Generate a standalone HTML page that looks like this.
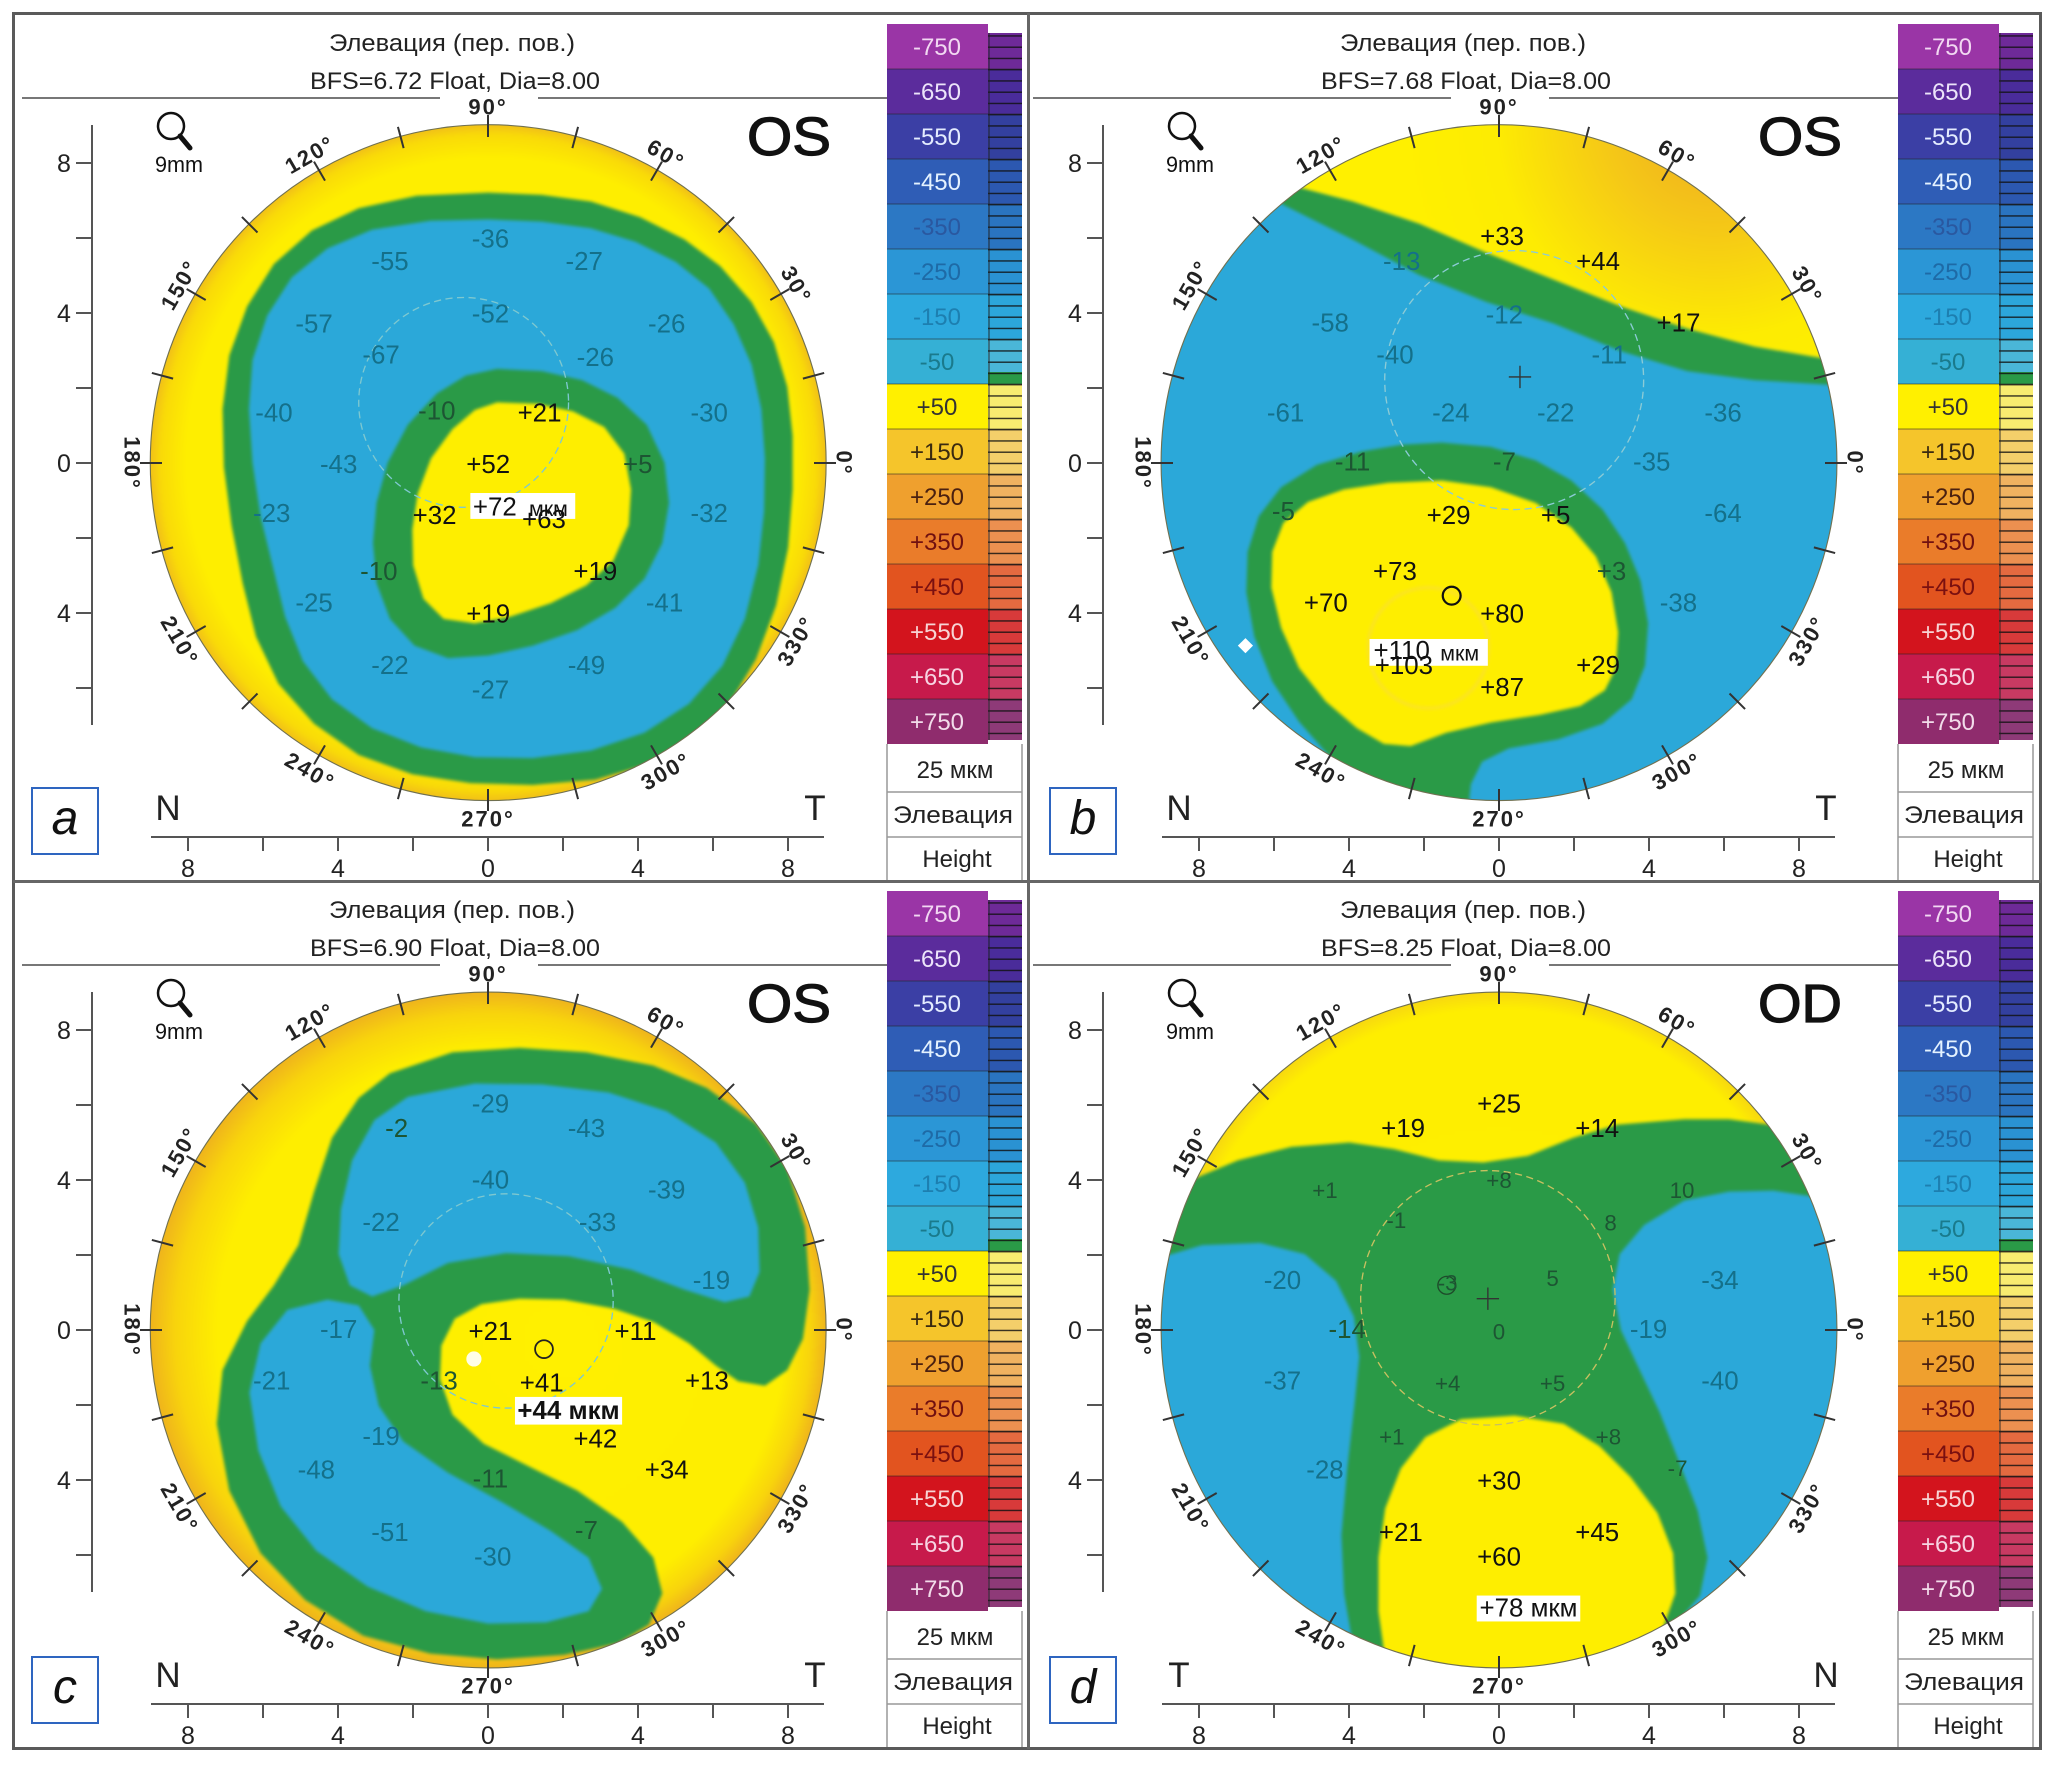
<!DOCTYPE html>
<html><head><meta charset="utf-8">
<style>
html,body{margin:0;padding:0;background:#fff}
svg{display:block}
.m text{font-size:58px;text-anchor:middle;dominant-baseline:central;font-family:"Liberation Sans","DejaVu Sans",sans-serif}
.k{fill:#111}
.q{fill:#14708a}
.g{fill:#1d5533}
.dg text{font-size:22px;font-weight:bold;letter-spacing:2px;text-anchor:middle;dominant-baseline:central;fill:#222}
.cb text{font-size:24px;text-anchor:middle}
</style></head>
<body>
<svg xmlns="http://www.w3.org/2000/svg" width="2053" height="1770" viewBox="0 0 2053 1770" font-family="'Liberation Sans','DejaVu Sans',sans-serif">
<defs>
<filter id="bl" x="-10%" y="-10%" width="120%" height="120%" color-interpolation-filters="sRGB"><feGaussianBlur stdDeviation="3.5"/></filter>
<radialGradient id="yA" gradientUnits="userSpaceOnUse" cx="780" cy="790" r="757" fx="830" fy="770">
<stop offset="0" stop-color="#FFF000"/><stop offset="0.9" stop-color="#FEEE00"/><stop offset="0.97" stop-color="#F9DA08"/><stop offset="1" stop-color="#F1C018"/></radialGradient>
<radialGradient id="yC" gradientUnits="userSpaceOnUse" cx="780" cy="790" r="757" fx="960" fy="820">
<stop offset="0" stop-color="#FFF000"/><stop offset="0.84" stop-color="#FEEE00"/><stop offset="0.94" stop-color="#F8D40C"/><stop offset="1" stop-color="#EFB41C"/></radialGradient>
<radialGradient id="yD" gradientUnits="userSpaceOnUse" cx="785" cy="790" r="757">
<stop offset="0" stop-color="#FFF000"/><stop offset="0.95" stop-color="#FEEE00"/><stop offset="1" stop-color="#F7D810"/></radialGradient>
<radialGradient id="yB" gradientUnits="userSpaceOnUse" cx="1260" cy="20" r="700">
<stop offset="0" stop-color="#EEA822"/><stop offset="0.35" stop-color="#F5C817"/><stop offset="0.7" stop-color="#FDEC02"/><stop offset="1" stop-color="#FFF000"/></radialGradient>
<clipPath id="cpA"><circle cx="780" cy="790" r="757"/></clipPath>
<clipPath id="cpB"><circle cx="778" cy="790" r="757"/></clipPath>
<clipPath id="cpD"><circle cx="785" cy="790" r="757"/></clipPath>
<pattern id="stl" patternUnits="userSpaceOnUse" x="0" y="24" width="40" height="11.25"><rect x="0" y="0" width="40" height="1.4" fill="#111" opacity="0.85"/></pattern>
</defs>
<rect width="2053" height="1770" fill="#fff"/>

<!-- ================= PANEL A MAP ================= -->
<g transform="translate(140 110) scale(0.4464)">
 <g clip-path="url(#cpA)">
  <g filter="url(#bl)">
   <rect x="-50" y="-50" width="1700" height="1700" fill="url(#yA)"/>
   <polygon fill="#2A9A47" points="780,185 900,190 1010,205 1120,240 1220,290 1300,350 1370,430 1420,520 1450,620 1462,730 1462,850 1452,980 1425,1110 1380,1230 1320,1330 1240,1410 1140,1465 1020,1500 880,1512 740,1508 610,1488 490,1445 390,1375 310,1285 260,1180 230,1060 205,930 188,800 185,670 200,550 240,440 300,345 385,270 490,220 620,192"/>
   <polygon fill="#2BA8D9" points="780,245 900,250 1010,265 1110,295 1200,340 1275,400 1330,480 1370,570 1392,670 1400,780 1398,900 1385,1020 1355,1140 1305,1245 1230,1330 1130,1395 1010,1435 880,1452 750,1450 630,1428 520,1385 430,1320 365,1235 325,1135 298,1025 270,910 252,790 244,670 252,560 285,460 340,375 420,310 520,268 650,248"/>
   <polygon fill="#2A9A47" points="800,580 900,585 990,605 1070,645 1135,705 1175,790 1185,880 1170,970 1130,1050 1065,1115 980,1165 880,1200 780,1222 690,1228 615,1200 560,1140 530,1060 522,970 530,880 555,790 600,705 665,635 730,595"/>
   <polygon fill="#FEEE00" points="800,655 890,658 970,675 1040,710 1085,770 1100,850 1095,930 1060,1010 1000,1065 920,1105 830,1135 750,1150 680,1140 635,1095 612,1020 610,940 622,860 652,780 700,715 750,672"/>
  </g>
  <circle cx="725" cy="655" r="235" fill="none" stroke="#7ec8d0" stroke-width="3" stroke-dasharray="16 10"/>
 </g>
 <circle cx="780" cy="790" r="757" fill="none" stroke="#707050" stroke-width="2.5"/>
 <g class="m">
  <text class="q" x="785" y="290">-36</text><text class="q" x="560" y="340">-55</text><text class="q" x="995" y="340">-27</text>
  <text class="q" x="390" y="480">-57</text><text class="q" x="785" y="458">-52</text><text class="q" x="1180" y="480">-26</text>
  <text class="q" x="540" y="550">-67</text><text class="q" x="1020" y="555">-26</text>
  <text class="q" x="300" y="680">-40</text><text class="g" x="665" y="675">-10</text><text class="k" x="895" y="680">+21</text><text class="q" x="1275" y="680">-30</text>
  <text class="q" x="445" y="795">-43</text><text class="k" x="780" y="795">+52</text><text class="g" x="1115" y="795">+5</text>
  <text class="q" x="295" y="905">-23</text><text class="k" x="660" y="910">+32</text><text class="q" x="1275" y="905">-32</text>
  <rect x="740" y="858" width="235" height="58" fill="#fff"/>
  <text class="k" x="795" y="890">+72</text><text class="k" x="915" y="894" style="font-size:48px">мкм</text><text class="k" x="905" y="918">+63</text>
  <text class="g" x="535" y="1035">-10</text><text class="k" x="1020" y="1035">+19</text>
  <text class="q" x="390" y="1105">-25</text><text class="k" x="780" y="1130">+19</text><text class="q" x="1175" y="1105">-41</text>
  <text class="q" x="560" y="1245">-22</text><text class="q" x="1000" y="1245">-49</text><text class="q" x="785" y="1300">-27</text>
 </g>
</g>

<!-- ================= PANEL B MAP ================= -->
<g transform="translate(1151.7 110) scale(0.4464)">
 <g clip-path="url(#cpB)">
  <g filter="url(#bl)">
   <rect x="-50" y="-50" width="1700" height="1700" fill="#2BA8D9"/>
   <polygon fill="url(#yB)" points="100,-50 1700,-50 1700,560 1495,555 1350,530 1200,490 1050,440 900,380 750,320 600,255 450,205 335,175 250,130 100,0"/>
   <polygon fill="#2A9A47" points="250,130 335,175 450,205 600,255 750,320 900,380 1050,440 1200,490 1350,530 1495,555 1700,560 1700,628 1510,615 1350,605 1200,585 1050,540 900,478 750,430 600,370 450,290 300,215 200,160 150,100"/>
   <polygon fill="#2A9A47" points="650,745 760,755 860,785 940,830 1010,895 1060,970 1095,1055 1112,1150 1105,1245 1075,1320 1010,1375 910,1410 800,1430 740,1460 715,1510 705,1600 600,1600 470,1540 400,1450 330,1370 270,1280 230,1180 212,1080 215,990 240,910 290,845 370,795 470,765 560,750"/>
   <polygon fill="#FEEE00" points="650,830 760,845 860,880 940,935 995,1000 1030,1080 1045,1170 1040,1250 1015,1300 960,1335 870,1355 760,1372 660,1395 580,1425 520,1420 460,1385 390,1325 330,1250 290,1160 268,1070 270,990 295,925 350,878 430,850 530,835"/>
   <circle cx="620" cy="1205" r="135" fill="none" stroke="#f6d84a" stroke-width="6" opacity="0.6"/>
  </g>
  <circle cx="812" cy="605" r="290" fill="none" stroke="#8ccbd6" stroke-width="3" stroke-dasharray="16 10"/>
 </g>
 <circle cx="778" cy="790" r="757" fill="none" stroke="#707050" stroke-width="2.5"/>
 <path d="M800 598H850M825 573V623" stroke="#333" stroke-width="3"/>
 <circle cx="672" cy="1088" r="20" fill="none" stroke="#111" stroke-width="5"/>
 <polygon points="210,1183 227,1200 210,1217 193,1200" fill="#fff"/>
 <g class="m">
  <text class="k" x="785" y="285">+33</text><text class="k" x="1000" y="340">+44</text><text class="q" x="560" y="340">-13</text>
  <text class="q" x="400" y="478">-58</text><text class="q" x="790" y="460">-12</text><text class="k" x="1180" y="478">+17</text>
  <text class="q" x="545" y="550">-40</text><text class="q" x="1025" y="550">-11</text>
  <text class="q" x="300" y="680">-61</text><text class="q" x="670" y="680">-24</text><text class="q" x="905" y="680">-22</text><text class="q" x="1280" y="680">-36</text>
  <text class="g" x="450" y="790">-11</text><text class="g" x="790" y="790">-7</text><text class="q" x="1120" y="790">-35</text>
  <text class="g" x="295" y="900">-5</text><text class="k" x="665" y="910">+29</text><text class="k" x="905" y="910">+5</text><text class="q" x="1280" y="905">-64</text>
  <text class="k" x="545" y="1035">+73</text><text class="g" x="1030" y="1035">+3</text>
  <text class="k" x="390" y="1105">+70</text><text class="k" x="785" y="1130">+80</text><text class="q" x="1180" y="1105">-38</text>
  <rect x="488" y="1185" width="265" height="60" fill="#fff"/>
  <text class="k" x="560" y="1212">+110</text><text class="k" x="690" y="1218" style="font-size:48px">мкм</text>
  <text class="k" x="565" y="1245">+103</text><text class="k" x="1000" y="1245">+29</text>
  <text class="k" x="785" y="1295">+87</text>
 </g>
</g>

<!-- ================= PANEL C MAP ================= -->
<g transform="translate(140 977.3) scale(0.4464)">
 <g clip-path="url(#cpA)">
  <g filter="url(#bl)">
   <rect x="-50" y="-50" width="1700" height="1700" fill="url(#yC)"/>
   <polygon fill="#2A9A47" points="560,215 700,168 850,158 1000,168 1150,198 1270,248 1380,328 1450,428 1490,560 1500,700 1485,810 1450,880 1400,915 1340,905 1290,870 1230,820 1150,772 1060,742 950,722 850,720 765,732 705,765 675,825 672,900 700,980 770,1045 870,1095 980,1150 1080,1220 1150,1300 1170,1380 1140,1450 1070,1492 950,1518 800,1528 650,1515 500,1475 370,1395 270,1290 200,1150 172,1000 185,880 240,770 300,690 355,600 390,480 430,360 490,270"/>
   <polygon fill="#2BA8D9" points="600,268 750,238 900,240 1050,258 1180,300 1290,370 1355,460 1385,560 1388,660 1365,715 1310,728 1220,700 1100,655 960,625 820,618 690,640 590,690 520,715 470,690 445,620 450,520 475,410 525,320"/>
   <polygon fill="#2BA8D9" points="330,745 420,722 490,735 525,790 515,870 535,960 590,1040 690,1110 810,1175 920,1240 1005,1300 1035,1370 1005,1420 910,1445 780,1448 640,1420 510,1365 395,1285 315,1185 265,1060 245,930 270,820"/>
  </g>
  <circle cx="820" cy="725" r="240" fill="none" stroke="#7ec8d0" stroke-width="3" stroke-dasharray="16 10"/>
 </g>
 <circle cx="780" cy="790" r="757" fill="none" stroke="#707050" stroke-width="2.5"/>
 <circle cx="748" cy="855" r="17" fill="#fff" opacity="0.9"/>
 <circle cx="905" cy="833" r="20" fill="none" stroke="#222" stroke-width="4"/>
 <g class="m">
  <text class="q" x="785" y="285">-29</text><text class="q" x="1000" y="340">-43</text><text class="g" x="575" y="340">-2</text>
  <text class="q" x="785" y="455">-40</text><text class="q" x="1180" y="478">-39</text>
  <text class="q" x="540" y="550">-22</text><text class="q" x="1025" y="550">-33</text>
  <text class="q" x="1280" y="680">-19</text>
  <text class="q" x="445" y="790">-17</text><text class="k" x="785" y="795">+21</text><text class="k" x="1110" y="795">+11</text>
  <text class="q" x="295" y="905">-21</text><text class="g" x="670" y="905">-13</text><text class="k" x="900" y="910">+41</text><text class="k" x="1270" y="905">+13</text>
  <rect x="840" y="940" width="240" height="62" fill="#fff"/>
  <text class="k" x="960" y="971" style="font-weight:bold">+44 мкм</text>
  <text class="q" x="540" y="1030">-19</text><text class="k" x="1020" y="1035">+42</text>
  <text class="q" x="395" y="1105">-48</text><text class="g" x="785" y="1125">-11</text><text class="k" x="1180" y="1105">+34</text>
  <text class="q" x="560" y="1245">-51</text><text class="g" x="1000" y="1240">-7</text>
  <text class="q" x="790" y="1300">-30</text>
 </g>
</g>

<!-- ================= PANEL D MAP ================= -->
<g transform="translate(1148.6 977.3) scale(0.4464)">
 <g clip-path="url(#cpD)">
  <g filter="url(#bl)">
   <rect x="-50" y="-50" width="1700" height="1700" fill="url(#yD)"/>
   <polygon fill="#2A9A47" points="-50,475 105,450 200,410 320,380 450,370 550,385 650,410 750,415 850,400 950,360 1050,330 1200,318 1300,318 1390,330 1700,340 1700,1700 -50,1700"/>
   <polygon fill="#2BA8D9" points="-50,628 45,622 120,600 250,595 350,620 420,680 460,760 472,850 462,950 445,1100 432,1250 438,1380 455,1480 400,1700 -50,1700"/>
   <polygon fill="#2BA8D9" points="1700,480 1480,490 1400,478 1300,480 1200,500 1110,555 1055,620 1040,700 1058,790 1100,880 1145,975 1190,1090 1230,1195 1252,1300 1235,1385 1180,1450 1150,1700 1700,1700"/>
   <polygon fill="#FEEE00" points="540,1600 515,1420 515,1300 530,1190 565,1100 620,1030 700,990 820,982 930,1000 1010,1050 1080,1120 1140,1200 1175,1290 1180,1380 1155,1450 1130,1600"/>
  </g>
  <circle cx="760" cy="718" r="285" fill="none" stroke="#c8c060" stroke-width="3" stroke-dasharray="16 10"/>
 </g>
 <circle cx="785" cy="790" r="757" fill="none" stroke="#707050" stroke-width="2.5"/>
 <path d="M735 720H785M760 695V745" stroke="#333" stroke-width="3"/>
 <circle cx="668" cy="690" r="20" fill="none" stroke="#1e4a2a" stroke-width="3"/>
 <g class="m">
  <text class="k" x="785" y="285">+25</text><text class="k" x="570" y="340">+19</text><text class="k" x="1005" y="340">+14</text>
  <text class="g" x="395" y="478" style="font-size:50px">+1</text><text class="g" x="785" y="455" style="font-size:50px">+8</text><text class="g" x="1195" y="478" style="font-size:50px">10</text>
  <text class="g" x="555" y="545" style="font-size:50px">-1</text><text class="g" x="1035" y="550" style="font-size:50px">8</text>
  <text class="q" x="300" y="680">-20</text><text class="g" x="670" y="685" style="font-size:50px">-3</text><text class="g" x="905" y="675" style="font-size:50px">5</text><text class="q" x="1280" y="680">-34</text>
  <text class="g" x="445" y="790">-14</text><text class="g" x="785" y="795" style="font-size:50px">0</text><text class="q" x="1120" y="790">-19</text>
  <text class="q" x="300" y="905">-37</text><text class="g" x="670" y="910" style="font-size:50px">+4</text><text class="g" x="905" y="910" style="font-size:50px">+5</text><text class="q" x="1280" y="905">-40</text>
  <text class="g" x="545" y="1030" style="font-size:50px">+1</text><text class="g" x="1030" y="1030" style="font-size:50px">+8</text>
  <text class="q" x="395" y="1105">-28</text><text class="k" x="785" y="1130">+30</text><text class="g" x="1185" y="1100" style="font-size:50px">-7</text>
  <text class="k" x="565" y="1245">+21</text><text class="k" x="1005" y="1245">+45</text>
  <text class="k" x="785" y="1300">+60</text>
  <rect x="735" y="1385" width="232" height="58" fill="#fff"/>
  <text class="k" x="851" y="1414">+78 мкм</text>
 </g>
</g>

<!-- ================= FRAMES ================= -->
<!-- PANEL A -->
<g>
 <text x="452" y="51" font-size="24" text-anchor="middle" textLength="246" lengthAdjust="spacingAndGlyphs" fill="#222">Элевация (пер. пов.)</text>
 <text x="455" y="89" font-size="24" text-anchor="middle" textLength="290" lengthAdjust="spacingAndGlyphs" fill="#222">BFS=6.72 Float, Dia=8.00</text>
 <path d="M22 98H440M538 98H887" stroke="#777" stroke-width="2"/>
 <g class="dg">
  <text transform="translate(844 463) rotate(90)">0°</text>
  <text transform="translate(796.3 285) rotate(60)">30°</text>
  <text transform="translate(666 154.7) rotate(30)">60°</text>
  <text transform="translate(488 107)">90°</text>
  <text transform="translate(310 154.7) rotate(-30)">120°</text>
  <text transform="translate(179.7 285) rotate(-60)">150°</text>
  <text transform="translate(132 463) rotate(90)">180°</text>
  <text transform="translate(179.7 641) rotate(60)">210°</text>
  <text transform="translate(310 771.3) rotate(30)">240°</text>
  <text transform="translate(488 819)">270°</text>
  <text transform="translate(666 771.3) rotate(-30)">300°</text>
  <text transform="translate(796.3 641) rotate(-60)">330°</text>
 </g>
 <g transform="translate(488 463)" stroke="#333" stroke-width="2">
  <path d="M326 0H348"/><path d="M326 0H348" transform="rotate(15)"/><path d="M326 0H348" transform="rotate(30)"/><path d="M326 0H348" transform="rotate(45)"/><path d="M326 0H348" transform="rotate(60)"/><path d="M326 0H348" transform="rotate(75)"/><path d="M326 0H348" transform="rotate(90)"/><path d="M326 0H348" transform="rotate(105)"/><path d="M326 0H348" transform="rotate(120)"/><path d="M326 0H348" transform="rotate(135)"/><path d="M326 0H348" transform="rotate(150)"/><path d="M326 0H348" transform="rotate(165)"/><path d="M326 0H348" transform="rotate(180)"/><path d="M326 0H348" transform="rotate(195)"/><path d="M326 0H348" transform="rotate(210)"/><path d="M326 0H348" transform="rotate(225)"/><path d="M326 0H348" transform="rotate(240)"/><path d="M326 0H348" transform="rotate(255)"/><path d="M326 0H348" transform="rotate(270)"/><path d="M326 0H348" transform="rotate(285)"/><path d="M326 0H348" transform="rotate(300)"/><path d="M326 0H348" transform="rotate(315)"/><path d="M326 0H348" transform="rotate(330)"/><path d="M326 0H348" transform="rotate(345)"/>
 </g>
 <path d="M92 125V725M76 163H92M76 238H92M76 313H92M76 388H92M76 463H92M76 538H92M76 613H92M76 688H92" stroke="#555" stroke-width="2" fill="none"/>
 <g font-size="25" text-anchor="middle" fill="#222"><text x="64" y="172">8</text><text x="64" y="322">4</text><text x="64" y="472">0</text><text x="64" y="622">4</text></g>
 <path d="M151 837H824M188 837V851M263 837V851M338 837V851M413 837V851M488 837V851M563 837V851M638 837V851M713 837V851M788 837V851" stroke="#555" stroke-width="2" fill="none"/>
 <g font-size="25" text-anchor="middle" fill="#222"><text x="188" y="877">8</text><text x="338" y="877">4</text><text x="488" y="877">0</text><text x="638" y="877">4</text><text x="788" y="877">8</text></g>
 <text x="168" y="820" font-size="35" text-anchor="middle" fill="#222">N</text>
 <text x="815" y="820" font-size="35" text-anchor="middle" fill="#222">T</text>
 <rect x="32" y="788" width="66" height="66" fill="#fff" stroke="#2e65c0" stroke-width="2"/>
 <text x="65" y="834" font-size="48" font-style="italic" text-anchor="middle" fill="#111">a</text>
 <text x="789" y="155" font-size="54" text-anchor="middle" textLength="84" lengthAdjust="spacingAndGlyphs" fill="#111" stroke="#111" stroke-width="1.2">OS</text>
 <circle cx="171" cy="126" r="13" fill="none" stroke="#111" stroke-width="2.5"/><path d="M180 136L190 148" stroke="#111" stroke-width="5" stroke-linecap="round"/>
 <text x="179" y="172" font-size="22" text-anchor="middle" textLength="48" lengthAdjust="spacingAndGlyphs" fill="#111">9mm</text>
 <g class="cb">
  <rect x="887" y="24" width="101" height="45" fill="#9A35A6"/><rect x="887" y="69" width="101" height="45" fill="#5B2C9C"/><rect x="887" y="114" width="101" height="45" fill="#3B3FA5"/><rect x="887" y="159" width="101" height="45" fill="#2F5DB6"/>
  <rect x="887" y="204" width="101" height="45" fill="#2C78C4"/><rect x="887" y="249" width="101" height="45" fill="#2B96D6"/><rect x="887" y="294" width="101" height="45" fill="#2DA9DE"/><rect x="887" y="339" width="101" height="45" fill="#35B0D5"/>
  <rect x="887" y="384" width="101" height="45" fill="#FFF000"/><rect x="887" y="429" width="101" height="45" fill="#F5C52B"/><rect x="887" y="474" width="101" height="45" fill="#EFA02E"/><rect x="887" y="519" width="101" height="45" fill="#EA7C2A"/>
  <rect x="887" y="564" width="101" height="45" fill="#E2541F"/><rect x="887" y="609" width="101" height="45" fill="#D3141D"/><rect x="887" y="654" width="101" height="45" fill="#C71A4B"/><rect x="887" y="699" width="101" height="45" fill="#8F2C6D"/>
  <rect x="988" y="33" width="34" height="36" fill="#6E2A98"/><rect x="988" y="69" width="34" height="45" fill="#4A2C9A"/><rect x="988" y="114" width="34" height="45" fill="#33409F"/><rect x="988" y="159" width="34" height="45" fill="#2C58B0"/>
  <rect x="988" y="204" width="34" height="45" fill="#2A74C0"/><rect x="988" y="249" width="34" height="45" fill="#2A92D2"/><rect x="988" y="294" width="34" height="45" fill="#2CA6DB"/><rect x="988" y="339" width="34" height="45" fill="#4AB6D8"/>
  <rect x="988" y="384" width="34" height="45" fill="#F8EC70"/><rect x="988" y="429" width="34" height="45" fill="#F4CF6A"/><rect x="988" y="474" width="34" height="45" fill="#F0B260"/><rect x="988" y="519" width="34" height="45" fill="#EC9050"/>
  <rect x="988" y="564" width="34" height="45" fill="#E46A40"/><rect x="988" y="609" width="34" height="45" fill="#D83A3A"/><rect x="988" y="654" width="34" height="45" fill="#C83A62"/><rect x="988" y="699" width="34" height="41" fill="#8E3A78"/>
  <rect x="988" y="372" width="34" height="12" fill="#2A9A47"/>
  <rect x="988" y="33" width="34" height="707" fill="url(#stl)"/>
  <path d="M989 33V740" stroke="#222" stroke-width="1.3" opacity="0.7"/>
  <path d="M887 69H1022M887 114H1022M887 159H1022M887 204H1022M887 249H1022M887 294H1022M887 339H1022M887 384H1022M887 429H1022M887 474H1022M887 519H1022M887 564H1022M887 609H1022M887 654H1022M887 699H1022" stroke="#222" stroke-width="1" opacity="0.55"/>
  <text x="937" y="55" fill="#f2d8f2">-750</text><text x="937" y="100" fill="#ece4fa">-650</text><text x="937" y="145" fill="#e4ecff">-550</text><text x="937" y="190" fill="#e4f2ff">-450</text>
  <text x="937" y="235" fill="#2a58a0">-350</text><text x="937" y="280" fill="#1e6aa6">-250</text><text x="937" y="325" fill="#1d7fb0">-150</text><text x="937" y="370" fill="#1a7a8c">-50</text>
  <text x="937" y="415" fill="#333">+50</text><text x="937" y="460" fill="#3a2a10">+150</text><text x="937" y="505" fill="#4a2010">+250</text><text x="937" y="550" fill="#701010">+350</text>
  <text x="937" y="595" fill="#7a1010">+450</text><text x="937" y="640" fill="#f7d4d4">+550</text><text x="937" y="685" fill="#f7d4e2">+650</text><text x="937" y="730" fill="#f2dcea">+750</text>
  <path d="M887 744V881M887 792H1022M887 837H1022M1022 744V881" stroke="#999" stroke-width="1.5" fill="none"/>
  <text x="955" y="778" fill="#222">25 мкм</text>
  <text x="953" y="823" fill="#222" textLength="120" lengthAdjust="spacingAndGlyphs">Элевация</text>
  <text x="957" y="867" fill="#222">Height</text>
 </g>
</g>

<!-- PANEL B -->
<g transform="translate(1011 0)">
 <text x="452" y="51" font-size="24" text-anchor="middle" textLength="246" lengthAdjust="spacingAndGlyphs" fill="#222">Элевация (пер. пов.)</text>
 <text x="455" y="89" font-size="24" text-anchor="middle" textLength="290" lengthAdjust="spacingAndGlyphs" fill="#222">BFS=7.68 Float, Dia=8.00</text>
 <path d="M22 98H440M538 98H887" stroke="#777" stroke-width="2"/>
 <g class="dg">
  <text transform="translate(844 463) rotate(90)">0°</text>
  <text transform="translate(796.3 285) rotate(60)">30°</text>
  <text transform="translate(666 154.7) rotate(30)">60°</text>
  <text transform="translate(488 107)">90°</text>
  <text transform="translate(310 154.7) rotate(-30)">120°</text>
  <text transform="translate(179.7 285) rotate(-60)">150°</text>
  <text transform="translate(132 463) rotate(90)">180°</text>
  <text transform="translate(179.7 641) rotate(60)">210°</text>
  <text transform="translate(310 771.3) rotate(30)">240°</text>
  <text transform="translate(488 819)">270°</text>
  <text transform="translate(666 771.3) rotate(-30)">300°</text>
  <text transform="translate(796.3 641) rotate(-60)">330°</text>
 </g>
 <g transform="translate(488 463)" stroke="#333" stroke-width="2">
  <path d="M326 0H348"/><path d="M326 0H348" transform="rotate(15)"/><path d="M326 0H348" transform="rotate(30)"/><path d="M326 0H348" transform="rotate(45)"/><path d="M326 0H348" transform="rotate(60)"/><path d="M326 0H348" transform="rotate(75)"/><path d="M326 0H348" transform="rotate(90)"/><path d="M326 0H348" transform="rotate(105)"/><path d="M326 0H348" transform="rotate(120)"/><path d="M326 0H348" transform="rotate(135)"/><path d="M326 0H348" transform="rotate(150)"/><path d="M326 0H348" transform="rotate(165)"/><path d="M326 0H348" transform="rotate(180)"/><path d="M326 0H348" transform="rotate(195)"/><path d="M326 0H348" transform="rotate(210)"/><path d="M326 0H348" transform="rotate(225)"/><path d="M326 0H348" transform="rotate(240)"/><path d="M326 0H348" transform="rotate(255)"/><path d="M326 0H348" transform="rotate(270)"/><path d="M326 0H348" transform="rotate(285)"/><path d="M326 0H348" transform="rotate(300)"/><path d="M326 0H348" transform="rotate(315)"/><path d="M326 0H348" transform="rotate(330)"/><path d="M326 0H348" transform="rotate(345)"/>
 </g>
 <path d="M92 125V725M76 163H92M76 238H92M76 313H92M76 388H92M76 463H92M76 538H92M76 613H92M76 688H92" stroke="#555" stroke-width="2" fill="none"/>
 <g font-size="25" text-anchor="middle" fill="#222"><text x="64" y="172">8</text><text x="64" y="322">4</text><text x="64" y="472">0</text><text x="64" y="622">4</text></g>
 <path d="M151 837H824M188 837V851M263 837V851M338 837V851M413 837V851M488 837V851M563 837V851M638 837V851M713 837V851M788 837V851" stroke="#555" stroke-width="2" fill="none"/>
 <g font-size="25" text-anchor="middle" fill="#222"><text x="188" y="877">8</text><text x="338" y="877">4</text><text x="488" y="877">0</text><text x="638" y="877">4</text><text x="788" y="877">8</text></g>
 <text x="168" y="820" font-size="35" text-anchor="middle" fill="#222">N</text>
 <text x="815" y="820" font-size="35" text-anchor="middle" fill="#222">T</text>
 <rect x="39" y="788" width="66" height="66" fill="#fff" stroke="#2e65c0" stroke-width="2"/>
 <text x="72" y="834" font-size="48" font-style="italic" text-anchor="middle" fill="#111">b</text>
 <text x="789" y="155" font-size="54" text-anchor="middle" textLength="84" lengthAdjust="spacingAndGlyphs" fill="#111" stroke="#111" stroke-width="1.2">OS</text>
 <circle cx="171" cy="126" r="13" fill="none" stroke="#111" stroke-width="2.5"/><path d="M180 136L190 148" stroke="#111" stroke-width="5" stroke-linecap="round"/>
 <text x="179" y="172" font-size="22" text-anchor="middle" textLength="48" lengthAdjust="spacingAndGlyphs" fill="#111">9mm</text>
 <g class="cb">
  <rect x="887" y="24" width="101" height="45" fill="#9A35A6"/><rect x="887" y="69" width="101" height="45" fill="#5B2C9C"/><rect x="887" y="114" width="101" height="45" fill="#3B3FA5"/><rect x="887" y="159" width="101" height="45" fill="#2F5DB6"/>
  <rect x="887" y="204" width="101" height="45" fill="#2C78C4"/><rect x="887" y="249" width="101" height="45" fill="#2B96D6"/><rect x="887" y="294" width="101" height="45" fill="#2DA9DE"/><rect x="887" y="339" width="101" height="45" fill="#35B0D5"/>
  <rect x="887" y="384" width="101" height="45" fill="#FFF000"/><rect x="887" y="429" width="101" height="45" fill="#F5C52B"/><rect x="887" y="474" width="101" height="45" fill="#EFA02E"/><rect x="887" y="519" width="101" height="45" fill="#EA7C2A"/>
  <rect x="887" y="564" width="101" height="45" fill="#E2541F"/><rect x="887" y="609" width="101" height="45" fill="#D3141D"/><rect x="887" y="654" width="101" height="45" fill="#C71A4B"/><rect x="887" y="699" width="101" height="45" fill="#8F2C6D"/>
  <rect x="988" y="33" width="34" height="36" fill="#6E2A98"/><rect x="988" y="69" width="34" height="45" fill="#4A2C9A"/><rect x="988" y="114" width="34" height="45" fill="#33409F"/><rect x="988" y="159" width="34" height="45" fill="#2C58B0"/>
  <rect x="988" y="204" width="34" height="45" fill="#2A74C0"/><rect x="988" y="249" width="34" height="45" fill="#2A92D2"/><rect x="988" y="294" width="34" height="45" fill="#2CA6DB"/><rect x="988" y="339" width="34" height="45" fill="#4AB6D8"/>
  <rect x="988" y="384" width="34" height="45" fill="#F8EC70"/><rect x="988" y="429" width="34" height="45" fill="#F4CF6A"/><rect x="988" y="474" width="34" height="45" fill="#F0B260"/><rect x="988" y="519" width="34" height="45" fill="#EC9050"/>
  <rect x="988" y="564" width="34" height="45" fill="#E46A40"/><rect x="988" y="609" width="34" height="45" fill="#D83A3A"/><rect x="988" y="654" width="34" height="45" fill="#C83A62"/><rect x="988" y="699" width="34" height="41" fill="#8E3A78"/>
  <rect x="988" y="372" width="34" height="12" fill="#2A9A47"/>
  <rect x="988" y="33" width="34" height="707" fill="url(#stl)"/>
  <path d="M989 33V740" stroke="#222" stroke-width="1.3" opacity="0.7"/>
  <path d="M887 69H1022M887 114H1022M887 159H1022M887 204H1022M887 249H1022M887 294H1022M887 339H1022M887 384H1022M887 429H1022M887 474H1022M887 519H1022M887 564H1022M887 609H1022M887 654H1022M887 699H1022" stroke="#222" stroke-width="1" opacity="0.55"/>
  <text x="937" y="55" fill="#f2d8f2">-750</text><text x="937" y="100" fill="#ece4fa">-650</text><text x="937" y="145" fill="#e4ecff">-550</text><text x="937" y="190" fill="#e4f2ff">-450</text>
  <text x="937" y="235" fill="#2a58a0">-350</text><text x="937" y="280" fill="#1e6aa6">-250</text><text x="937" y="325" fill="#1d7fb0">-150</text><text x="937" y="370" fill="#1a7a8c">-50</text>
  <text x="937" y="415" fill="#333">+50</text><text x="937" y="460" fill="#3a2a10">+150</text><text x="937" y="505" fill="#4a2010">+250</text><text x="937" y="550" fill="#701010">+350</text>
  <text x="937" y="595" fill="#7a1010">+450</text><text x="937" y="640" fill="#f7d4d4">+550</text><text x="937" y="685" fill="#f7d4e2">+650</text><text x="937" y="730" fill="#f2dcea">+750</text>
  <path d="M887 744V881M887 792H1022M887 837H1022M1022 744V881" stroke="#999" stroke-width="1.5" fill="none"/>
  <text x="955" y="778" fill="#222">25 мкм</text>
  <text x="953" y="823" fill="#222" textLength="120" lengthAdjust="spacingAndGlyphs">Элевация</text>
  <text x="957" y="867" fill="#222">Height</text>
 </g>
</g>

<!-- PANEL C -->
<g transform="translate(0 867)">
 <text x="452" y="51" font-size="24" text-anchor="middle" textLength="246" lengthAdjust="spacingAndGlyphs" fill="#222">Элевация (пер. пов.)</text>
 <text x="455" y="89" font-size="24" text-anchor="middle" textLength="290" lengthAdjust="spacingAndGlyphs" fill="#222">BFS=6.90 Float, Dia=8.00</text>
 <path d="M22 98H440M538 98H887" stroke="#777" stroke-width="2"/>
 <g class="dg">
  <text transform="translate(844 463) rotate(90)">0°</text>
  <text transform="translate(796.3 285) rotate(60)">30°</text>
  <text transform="translate(666 154.7) rotate(30)">60°</text>
  <text transform="translate(488 107)">90°</text>
  <text transform="translate(310 154.7) rotate(-30)">120°</text>
  <text transform="translate(179.7 285) rotate(-60)">150°</text>
  <text transform="translate(132 463) rotate(90)">180°</text>
  <text transform="translate(179.7 641) rotate(60)">210°</text>
  <text transform="translate(310 771.3) rotate(30)">240°</text>
  <text transform="translate(488 819)">270°</text>
  <text transform="translate(666 771.3) rotate(-30)">300°</text>
  <text transform="translate(796.3 641) rotate(-60)">330°</text>
 </g>
 <g transform="translate(488 463)" stroke="#333" stroke-width="2">
  <path d="M326 0H348"/><path d="M326 0H348" transform="rotate(15)"/><path d="M326 0H348" transform="rotate(30)"/><path d="M326 0H348" transform="rotate(45)"/><path d="M326 0H348" transform="rotate(60)"/><path d="M326 0H348" transform="rotate(75)"/><path d="M326 0H348" transform="rotate(90)"/><path d="M326 0H348" transform="rotate(105)"/><path d="M326 0H348" transform="rotate(120)"/><path d="M326 0H348" transform="rotate(135)"/><path d="M326 0H348" transform="rotate(150)"/><path d="M326 0H348" transform="rotate(165)"/><path d="M326 0H348" transform="rotate(180)"/><path d="M326 0H348" transform="rotate(195)"/><path d="M326 0H348" transform="rotate(210)"/><path d="M326 0H348" transform="rotate(225)"/><path d="M326 0H348" transform="rotate(240)"/><path d="M326 0H348" transform="rotate(255)"/><path d="M326 0H348" transform="rotate(270)"/><path d="M326 0H348" transform="rotate(285)"/><path d="M326 0H348" transform="rotate(300)"/><path d="M326 0H348" transform="rotate(315)"/><path d="M326 0H348" transform="rotate(330)"/><path d="M326 0H348" transform="rotate(345)"/>
 </g>
 <path d="M92 125V725M76 163H92M76 238H92M76 313H92M76 388H92M76 463H92M76 538H92M76 613H92M76 688H92" stroke="#555" stroke-width="2" fill="none"/>
 <g font-size="25" text-anchor="middle" fill="#222"><text x="64" y="172">8</text><text x="64" y="322">4</text><text x="64" y="472">0</text><text x="64" y="622">4</text></g>
 <path d="M151 837H824M188 837V851M263 837V851M338 837V851M413 837V851M488 837V851M563 837V851M638 837V851M713 837V851M788 837V851" stroke="#555" stroke-width="2" fill="none"/>
 <g font-size="25" text-anchor="middle" fill="#222"><text x="188" y="877">8</text><text x="338" y="877">4</text><text x="488" y="877">0</text><text x="638" y="877">4</text><text x="788" y="877">8</text></g>
 <text x="168" y="820" font-size="35" text-anchor="middle" fill="#222">N</text>
 <text x="815" y="820" font-size="35" text-anchor="middle" fill="#222">T</text>
 <rect x="32" y="790" width="66" height="66" fill="#fff" stroke="#2e65c0" stroke-width="2"/>
 <text x="65" y="836" font-size="48" font-style="italic" text-anchor="middle" fill="#111">c</text>
 <text x="789" y="155" font-size="54" text-anchor="middle" textLength="84" lengthAdjust="spacingAndGlyphs" fill="#111" stroke="#111" stroke-width="1.2">OS</text>
 <circle cx="171" cy="126" r="13" fill="none" stroke="#111" stroke-width="2.5"/><path d="M180 136L190 148" stroke="#111" stroke-width="5" stroke-linecap="round"/>
 <text x="179" y="172" font-size="22" text-anchor="middle" textLength="48" lengthAdjust="spacingAndGlyphs" fill="#111">9mm</text>
 <g class="cb">
  <rect x="887" y="24" width="101" height="45" fill="#9A35A6"/><rect x="887" y="69" width="101" height="45" fill="#5B2C9C"/><rect x="887" y="114" width="101" height="45" fill="#3B3FA5"/><rect x="887" y="159" width="101" height="45" fill="#2F5DB6"/>
  <rect x="887" y="204" width="101" height="45" fill="#2C78C4"/><rect x="887" y="249" width="101" height="45" fill="#2B96D6"/><rect x="887" y="294" width="101" height="45" fill="#2DA9DE"/><rect x="887" y="339" width="101" height="45" fill="#35B0D5"/>
  <rect x="887" y="384" width="101" height="45" fill="#FFF000"/><rect x="887" y="429" width="101" height="45" fill="#F5C52B"/><rect x="887" y="474" width="101" height="45" fill="#EFA02E"/><rect x="887" y="519" width="101" height="45" fill="#EA7C2A"/>
  <rect x="887" y="564" width="101" height="45" fill="#E2541F"/><rect x="887" y="609" width="101" height="45" fill="#D3141D"/><rect x="887" y="654" width="101" height="45" fill="#C71A4B"/><rect x="887" y="699" width="101" height="45" fill="#8F2C6D"/>
  <rect x="988" y="33" width="34" height="36" fill="#6E2A98"/><rect x="988" y="69" width="34" height="45" fill="#4A2C9A"/><rect x="988" y="114" width="34" height="45" fill="#33409F"/><rect x="988" y="159" width="34" height="45" fill="#2C58B0"/>
  <rect x="988" y="204" width="34" height="45" fill="#2A74C0"/><rect x="988" y="249" width="34" height="45" fill="#2A92D2"/><rect x="988" y="294" width="34" height="45" fill="#2CA6DB"/><rect x="988" y="339" width="34" height="45" fill="#4AB6D8"/>
  <rect x="988" y="384" width="34" height="45" fill="#F8EC70"/><rect x="988" y="429" width="34" height="45" fill="#F4CF6A"/><rect x="988" y="474" width="34" height="45" fill="#F0B260"/><rect x="988" y="519" width="34" height="45" fill="#EC9050"/>
  <rect x="988" y="564" width="34" height="45" fill="#E46A40"/><rect x="988" y="609" width="34" height="45" fill="#D83A3A"/><rect x="988" y="654" width="34" height="45" fill="#C83A62"/><rect x="988" y="699" width="34" height="41" fill="#8E3A78"/>
  <rect x="988" y="372" width="34" height="12" fill="#2A9A47"/>
  <rect x="988" y="33" width="34" height="707" fill="url(#stl)"/>
  <path d="M989 33V740" stroke="#222" stroke-width="1.3" opacity="0.7"/>
  <path d="M887 69H1022M887 114H1022M887 159H1022M887 204H1022M887 249H1022M887 294H1022M887 339H1022M887 384H1022M887 429H1022M887 474H1022M887 519H1022M887 564H1022M887 609H1022M887 654H1022M887 699H1022" stroke="#222" stroke-width="1" opacity="0.55"/>
  <text x="937" y="55" fill="#f2d8f2">-750</text><text x="937" y="100" fill="#ece4fa">-650</text><text x="937" y="145" fill="#e4ecff">-550</text><text x="937" y="190" fill="#e4f2ff">-450</text>
  <text x="937" y="235" fill="#2a58a0">-350</text><text x="937" y="280" fill="#1e6aa6">-250</text><text x="937" y="325" fill="#1d7fb0">-150</text><text x="937" y="370" fill="#1a7a8c">-50</text>
  <text x="937" y="415" fill="#333">+50</text><text x="937" y="460" fill="#3a2a10">+150</text><text x="937" y="505" fill="#4a2010">+250</text><text x="937" y="550" fill="#701010">+350</text>
  <text x="937" y="595" fill="#7a1010">+450</text><text x="937" y="640" fill="#f7d4d4">+550</text><text x="937" y="685" fill="#f7d4e2">+650</text><text x="937" y="730" fill="#f2dcea">+750</text>
  <path d="M887 744V881M887 792H1022M887 837H1022M1022 744V881" stroke="#999" stroke-width="1.5" fill="none"/>
  <text x="955" y="778" fill="#222">25 мкм</text>
  <text x="953" y="823" fill="#222" textLength="120" lengthAdjust="spacingAndGlyphs">Элевация</text>
  <text x="957" y="867" fill="#222">Height</text>
 </g>
</g>

<!-- PANEL D -->
<g transform="translate(1011 867)">
 <text x="452" y="51" font-size="24" text-anchor="middle" textLength="246" lengthAdjust="spacingAndGlyphs" fill="#222">Элевация (пер. пов.)</text>
 <text x="455" y="89" font-size="24" text-anchor="middle" textLength="290" lengthAdjust="spacingAndGlyphs" fill="#222">BFS=8.25 Float, Dia=8.00</text>
 <path d="M22 98H440M538 98H887" stroke="#777" stroke-width="2"/>
 <g class="dg">
  <text transform="translate(844 463) rotate(90)">0°</text>
  <text transform="translate(796.3 285) rotate(60)">30°</text>
  <text transform="translate(666 154.7) rotate(30)">60°</text>
  <text transform="translate(488 107)">90°</text>
  <text transform="translate(310 154.7) rotate(-30)">120°</text>
  <text transform="translate(179.7 285) rotate(-60)">150°</text>
  <text transform="translate(132 463) rotate(90)">180°</text>
  <text transform="translate(179.7 641) rotate(60)">210°</text>
  <text transform="translate(310 771.3) rotate(30)">240°</text>
  <text transform="translate(488 819)">270°</text>
  <text transform="translate(666 771.3) rotate(-30)">300°</text>
  <text transform="translate(796.3 641) rotate(-60)">330°</text>
 </g>
 <g transform="translate(488 463)" stroke="#333" stroke-width="2">
  <path d="M326 0H348"/><path d="M326 0H348" transform="rotate(15)"/><path d="M326 0H348" transform="rotate(30)"/><path d="M326 0H348" transform="rotate(45)"/><path d="M326 0H348" transform="rotate(60)"/><path d="M326 0H348" transform="rotate(75)"/><path d="M326 0H348" transform="rotate(90)"/><path d="M326 0H348" transform="rotate(105)"/><path d="M326 0H348" transform="rotate(120)"/><path d="M326 0H348" transform="rotate(135)"/><path d="M326 0H348" transform="rotate(150)"/><path d="M326 0H348" transform="rotate(165)"/><path d="M326 0H348" transform="rotate(180)"/><path d="M326 0H348" transform="rotate(195)"/><path d="M326 0H348" transform="rotate(210)"/><path d="M326 0H348" transform="rotate(225)"/><path d="M326 0H348" transform="rotate(240)"/><path d="M326 0H348" transform="rotate(255)"/><path d="M326 0H348" transform="rotate(270)"/><path d="M326 0H348" transform="rotate(285)"/><path d="M326 0H348" transform="rotate(300)"/><path d="M326 0H348" transform="rotate(315)"/><path d="M326 0H348" transform="rotate(330)"/><path d="M326 0H348" transform="rotate(345)"/>
 </g>
 <path d="M92 125V725M76 163H92M76 238H92M76 313H92M76 388H92M76 463H92M76 538H92M76 613H92M76 688H92" stroke="#555" stroke-width="2" fill="none"/>
 <g font-size="25" text-anchor="middle" fill="#222"><text x="64" y="172">8</text><text x="64" y="322">4</text><text x="64" y="472">0</text><text x="64" y="622">4</text></g>
 <path d="M151 837H824M188 837V851M263 837V851M338 837V851M413 837V851M488 837V851M563 837V851M638 837V851M713 837V851M788 837V851" stroke="#555" stroke-width="2" fill="none"/>
 <g font-size="25" text-anchor="middle" fill="#222"><text x="188" y="877">8</text><text x="338" y="877">4</text><text x="488" y="877">0</text><text x="638" y="877">4</text><text x="788" y="877">8</text></g>
 <text x="168" y="820" font-size="35" text-anchor="middle" fill="#222">T</text>
 <text x="815" y="820" font-size="35" text-anchor="middle" fill="#222">N</text>
 <rect x="39" y="790" width="66" height="66" fill="#fff" stroke="#2e65c0" stroke-width="2"/>
 <text x="72" y="836" font-size="48" font-style="italic" text-anchor="middle" fill="#111">d</text>
 <text x="789" y="155" font-size="54" text-anchor="middle" textLength="84" lengthAdjust="spacingAndGlyphs" fill="#111" stroke="#111" stroke-width="1.2">OD</text>
 <circle cx="171" cy="126" r="13" fill="none" stroke="#111" stroke-width="2.5"/><path d="M180 136L190 148" stroke="#111" stroke-width="5" stroke-linecap="round"/>
 <text x="179" y="172" font-size="22" text-anchor="middle" textLength="48" lengthAdjust="spacingAndGlyphs" fill="#111">9mm</text>
 <g class="cb">
  <rect x="887" y="24" width="101" height="45" fill="#9A35A6"/><rect x="887" y="69" width="101" height="45" fill="#5B2C9C"/><rect x="887" y="114" width="101" height="45" fill="#3B3FA5"/><rect x="887" y="159" width="101" height="45" fill="#2F5DB6"/>
  <rect x="887" y="204" width="101" height="45" fill="#2C78C4"/><rect x="887" y="249" width="101" height="45" fill="#2B96D6"/><rect x="887" y="294" width="101" height="45" fill="#2DA9DE"/><rect x="887" y="339" width="101" height="45" fill="#35B0D5"/>
  <rect x="887" y="384" width="101" height="45" fill="#FFF000"/><rect x="887" y="429" width="101" height="45" fill="#F5C52B"/><rect x="887" y="474" width="101" height="45" fill="#EFA02E"/><rect x="887" y="519" width="101" height="45" fill="#EA7C2A"/>
  <rect x="887" y="564" width="101" height="45" fill="#E2541F"/><rect x="887" y="609" width="101" height="45" fill="#D3141D"/><rect x="887" y="654" width="101" height="45" fill="#C71A4B"/><rect x="887" y="699" width="101" height="45" fill="#8F2C6D"/>
  <rect x="988" y="33" width="34" height="36" fill="#6E2A98"/><rect x="988" y="69" width="34" height="45" fill="#4A2C9A"/><rect x="988" y="114" width="34" height="45" fill="#33409F"/><rect x="988" y="159" width="34" height="45" fill="#2C58B0"/>
  <rect x="988" y="204" width="34" height="45" fill="#2A74C0"/><rect x="988" y="249" width="34" height="45" fill="#2A92D2"/><rect x="988" y="294" width="34" height="45" fill="#2CA6DB"/><rect x="988" y="339" width="34" height="45" fill="#4AB6D8"/>
  <rect x="988" y="384" width="34" height="45" fill="#F8EC70"/><rect x="988" y="429" width="34" height="45" fill="#F4CF6A"/><rect x="988" y="474" width="34" height="45" fill="#F0B260"/><rect x="988" y="519" width="34" height="45" fill="#EC9050"/>
  <rect x="988" y="564" width="34" height="45" fill="#E46A40"/><rect x="988" y="609" width="34" height="45" fill="#D83A3A"/><rect x="988" y="654" width="34" height="45" fill="#C83A62"/><rect x="988" y="699" width="34" height="41" fill="#8E3A78"/>
  <rect x="988" y="372" width="34" height="12" fill="#2A9A47"/>
  <rect x="988" y="33" width="34" height="707" fill="url(#stl)"/>
  <path d="M989 33V740" stroke="#222" stroke-width="1.3" opacity="0.7"/>
  <path d="M887 69H1022M887 114H1022M887 159H1022M887 204H1022M887 249H1022M887 294H1022M887 339H1022M887 384H1022M887 429H1022M887 474H1022M887 519H1022M887 564H1022M887 609H1022M887 654H1022M887 699H1022" stroke="#222" stroke-width="1" opacity="0.55"/>
  <text x="937" y="55" fill="#f2d8f2">-750</text><text x="937" y="100" fill="#ece4fa">-650</text><text x="937" y="145" fill="#e4ecff">-550</text><text x="937" y="190" fill="#e4f2ff">-450</text>
  <text x="937" y="235" fill="#2a58a0">-350</text><text x="937" y="280" fill="#1e6aa6">-250</text><text x="937" y="325" fill="#1d7fb0">-150</text><text x="937" y="370" fill="#1a7a8c">-50</text>
  <text x="937" y="415" fill="#333">+50</text><text x="937" y="460" fill="#3a2a10">+150</text><text x="937" y="505" fill="#4a2010">+250</text><text x="937" y="550" fill="#701010">+350</text>
  <text x="937" y="595" fill="#7a1010">+450</text><text x="937" y="640" fill="#f7d4d4">+550</text><text x="937" y="685" fill="#f7d4e2">+650</text><text x="937" y="730" fill="#f2dcea">+750</text>
  <path d="M887 744V881M887 792H1022M887 837H1022M1022 744V881" stroke="#999" stroke-width="1.5" fill="none"/>
  <text x="955" y="778" fill="#222">25 мкм</text>
  <text x="953" y="823" fill="#222" textLength="120" lengthAdjust="spacingAndGlyphs">Элевация</text>
  <text x="957" y="867" fill="#222">Height</text>
 </g>
</g>

<!-- Outer frame and dividers -->
<rect x="13.5" y="13.5" width="2027" height="1735" fill="none" stroke="#5a5a5a" stroke-width="3"/>
<path d="M1028.5 13V1749M13 881.5H2041" stroke="#666" stroke-width="3"/>
</svg>
</body></html>
